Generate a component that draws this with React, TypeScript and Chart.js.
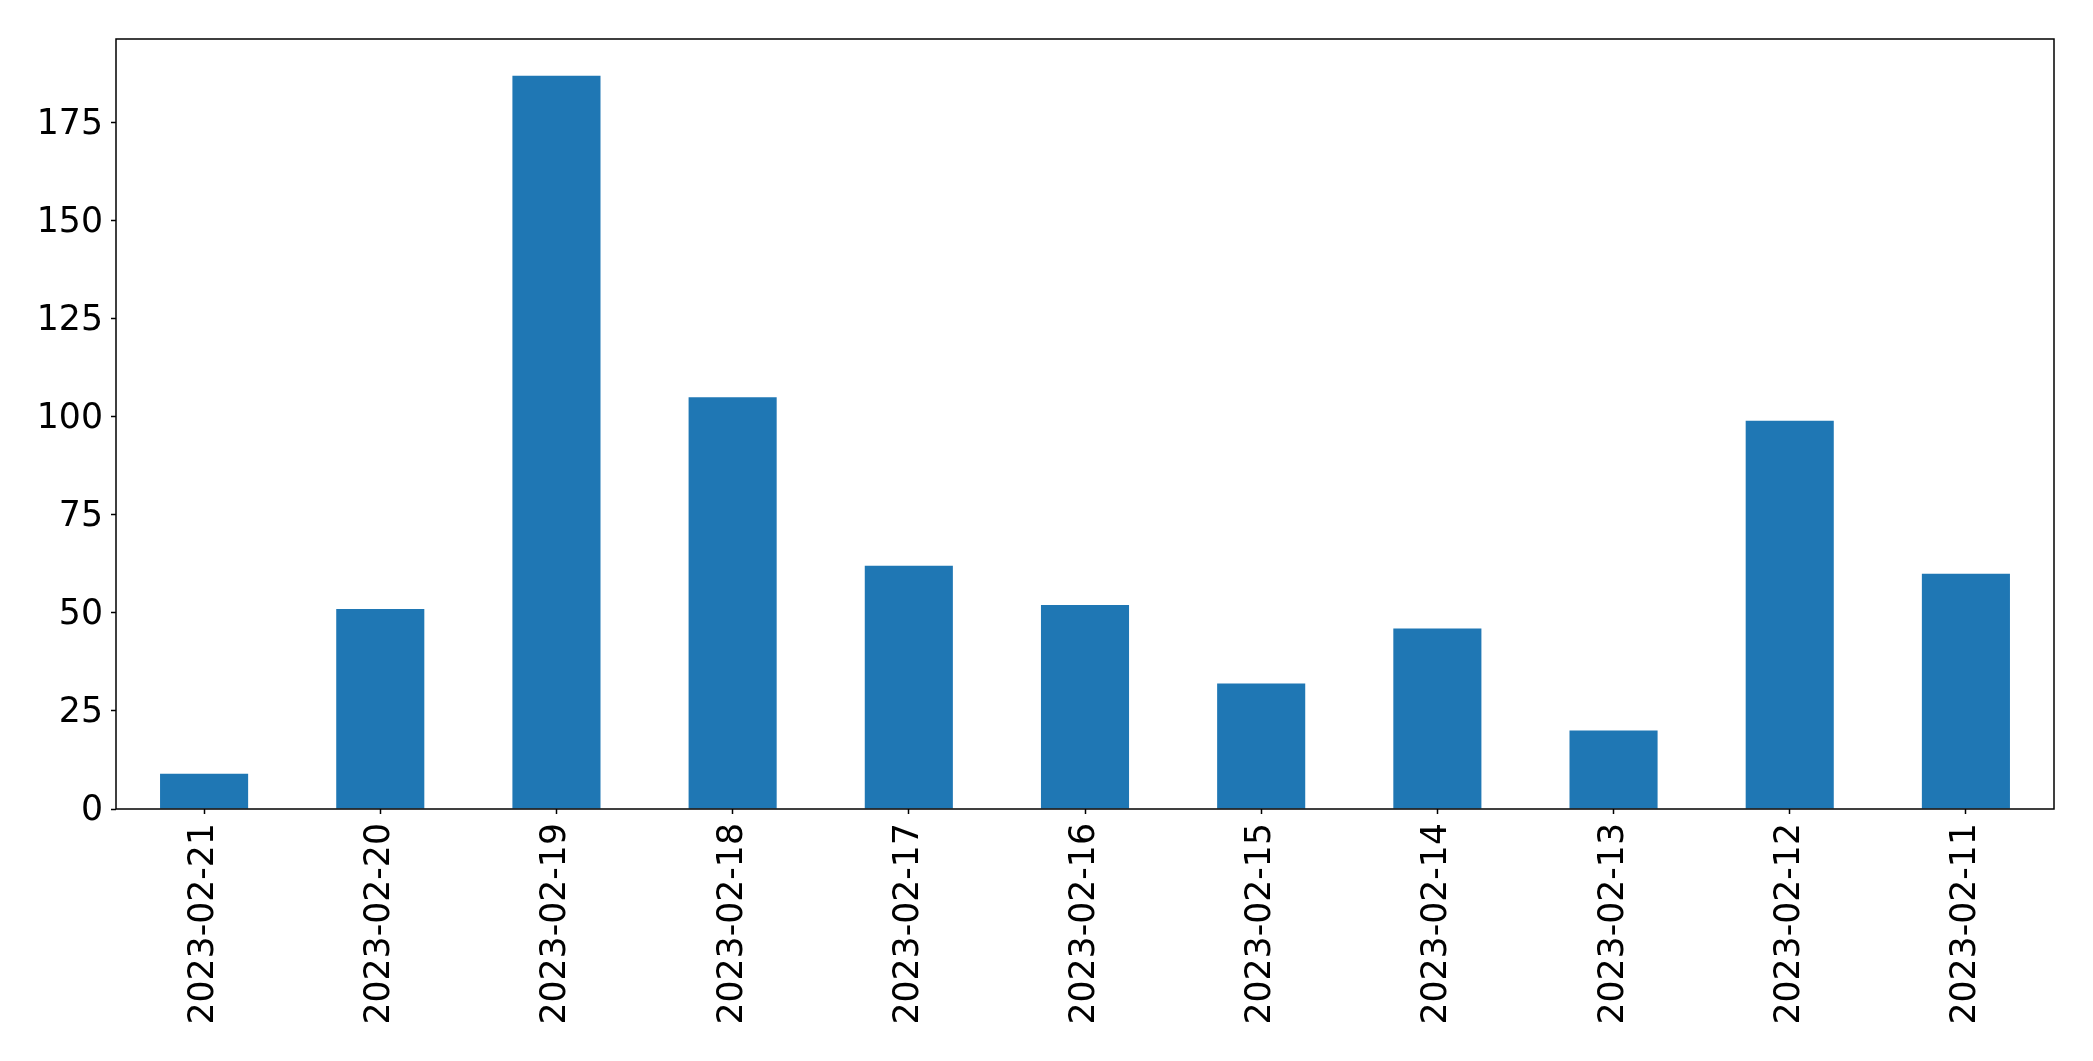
import React, { useEffect, useRef } from "react";
import { Chart, registerables } from "chart.js";

Chart.register(...registerables);

const categories = [
  "2023-02-21",
  "2023-02-20",
  "2023-02-19",
  "2023-02-18",
  "2023-02-17",
  "2023-02-16",
  "2023-02-15",
  "2023-02-14",
  "2023-02-13",
  "2023-02-12",
  "2023-02-11",
];
const values = [9, 51, 187, 105, 62, 52, 32, 46, 20, 99, 60];
const yTicks = [0, 25, 50, 75, 100, 125, 150, 175];
const yMax = 196.35;

const W = 2093;
const H = 1061;
const FONT = "'DejaVu Sans', sans-serif";

const frame = {
  id: "frame",
  afterDatasetsDraw(chart: any) {
    const { ctx, chartArea } = chart;
    ctx.save();
    ctx.strokeStyle = "#000";
    ctx.lineWidth = 1.5;
    ctx.strokeRect(chartArea.left, chartArea.top, chartArea.right - chartArea.left, chartArea.bottom - chartArea.top);
    ctx.restore();
  },
};

export default function App() {
  const ref = useRef<HTMLCanvasElement | null>(null);
  useEffect(() => {
    document.body.style.margin = "0";
    const c = ref.current!;
    const chart = new Chart(c, {
      type: "bar",
      data: {
        labels: categories,
        datasets: [
          {
            data: values,
            backgroundColor: "#1f77b4",
            borderWidth: 0,
            barPercentage: 0.5,
            categoryPercentage: 1,
          },
        ],
      },
      options: {
        animation: false,
        responsive: false,
        devicePixelRatio: 1,
        layout: { padding: { top: 39, right: 39, left: 0, bottom: 0 } },
        plugins: { legend: { display: false }, tooltip: { enabled: false } },
        scales: {
          x: {
            type: "category",
            offset: true,
            grid: {
              display: true,
              offset: false,
              drawOnChartArea: false,
              drawTicks: true,
              tickLength: 5,
              tickWidth: 1.5,
              tickColor: "#000",
            },
            border: { display: false },
            ticks: {
              color: "#000",
              font: { family: FONT, size: 34.7 },
              minRotation: 90,
              maxRotation: 90,
              autoSkip: false,
              padding: 9,
            },
            afterFit(scale: any) {
              scale.height = H - 809;
            },
          },
          y: {
            type: "linear",
            min: 0,
            max: yMax,
            grid: {
              display: true,
              drawOnChartArea: false,
              drawTicks: true,
              tickLength: 5,
              tickWidth: 1.5,
              tickColor: "#000",
            },
            border: { display: false },
            ticks: {
              color: "#000",
              font: { family: FONT, size: 34.7 },
              padding: 8,
              labelOffset: 2,
              includeBounds: false,
            },
            afterBuildTicks(scale: any) {
              scale.ticks = yTicks.map((v) => ({ value: v }));
            },
            afterFit(scale: any) {
              scale.width = 116;
            },
          },
        },
      },
      plugins: [frame],
    });
    return () => chart.destroy();
  }, []);
  return (
    <div style={{ position: "absolute", left: 0, top: 0, width: W, height: H, background: "#fff" }}>
      <canvas ref={ref} width={W} height={H} style={{ display: "block" }} />
    </div>
  );
}
